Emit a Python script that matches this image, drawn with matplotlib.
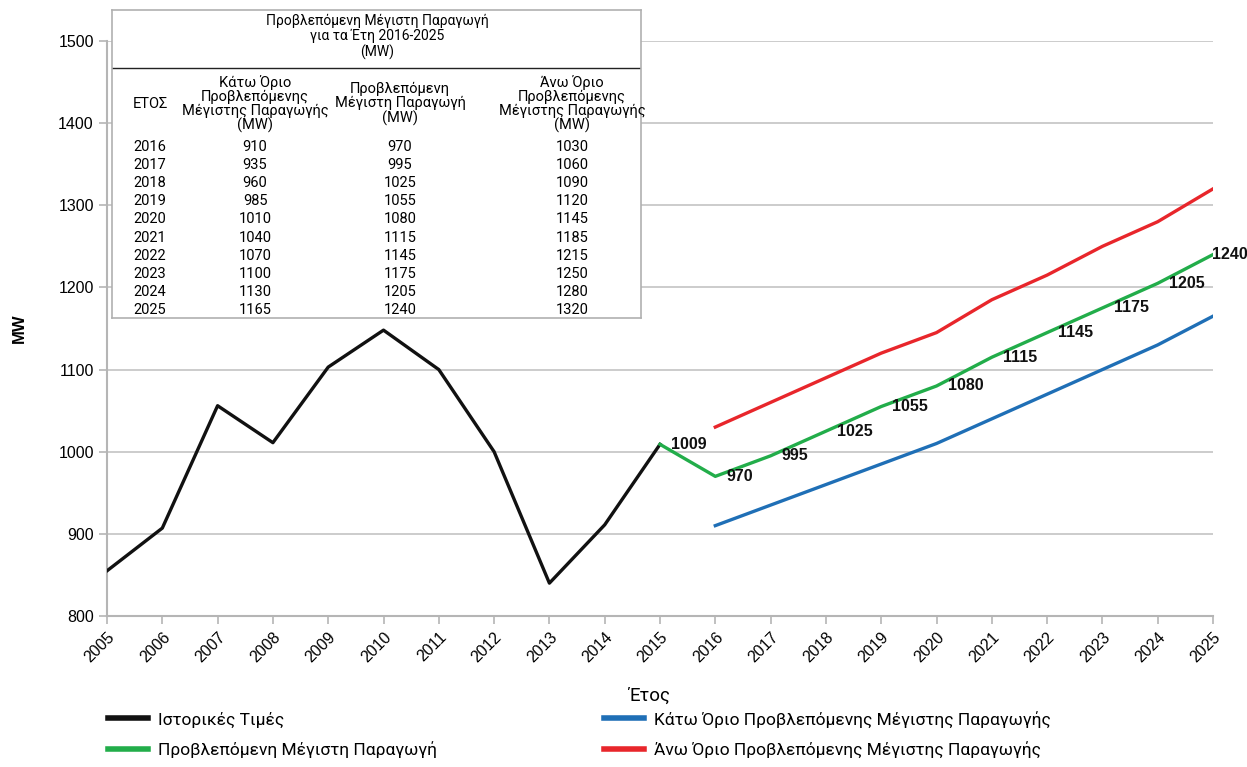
import matplotlib
matplotlib.use("Agg")
import matplotlib.pyplot as plt
from matplotlib.lines import Line2D

# historical values
hist_years = [2005, 2006, 2007, 2008, 2009, 2010, 2011, 2012, 2013, 2014, 2015]
hist_vals = [855, 907, 1056, 1011, 1103, 1148, 1100, 1000, 840, 911, 1009]

# forecast table 2016-2025
fc_years = [2016, 2017, 2018, 2019, 2020, 2021, 2022, 2023, 2024, 2025]
low_vals = [910, 935, 960, 985, 1010, 1040, 1070, 1100, 1130, 1165]
mid_vals = [970, 995, 1025, 1055, 1080, 1115, 1145, 1175, 1205, 1240]
high_vals = [1030, 1060, 1090, 1120, 1145, 1185, 1215, 1250, 1280, 1320]

all_years = list(range(2005, 2026))

lbl_hist = 'Ιστορικές Τιμές'
lbl_low = 'Κάτω Όριο Προβλεπόμενης Μέγιστης Παραγωγής'
lbl_mid = 'Προβλεπόμενη Μέγιστη Παραγωγή'
lbl_high = 'Άνω Όριο Προβλεπόμενης Μέγιστης Παραγωγής'

c_hist = '#111111'
c_low = '#1f6fb6'
c_mid = '#22ad4a'
c_high = '#e8262b'

plt.rcParams['font.family'] = ['Liberation Sans', 'DejaVu Sans']
tfont = ['Roboto', 'DejaVu Sans']

fig = plt.figure(figsize=(12.47, 7.67), dpi=100)
ax = fig.add_axes([107 / 1247, 1 - 616 / 767, (1213 - 107) / 1247, (616 - 41) / 767])

ax.plot(hist_years, hist_vals, color=c_hist, lw=2.4, zorder=3)
ax.plot([hist_years[-1]] + fc_years, [hist_vals[-1]] + mid_vals, color=c_mid, lw=2.4, zorder=3)
ax.plot(fc_years, low_vals, color=c_low, lw=2.4, zorder=3)
ax.plot(fc_years, high_vals, color=c_high, lw=2.4, zorder=3)

# data labels on the forecast line
lab_x = [hist_years[-1]] + fc_years
lab_v = [hist_vals[-1]] + mid_vals
for i, (x, v) in enumerate(zip(lab_x, lab_v)):
    dx = 8 if i < len(lab_x) - 1 else -1
    ax.annotate(str(v), (x, v), xytext=(dx, 0), textcoords='offset points',
                ha='left', va='center', fontsize=11.5, fontweight='bold',
                color='#111111', zorder=4, annotation_clip=False)

ax.set_xlim(2005, 2025)
ax.set_ylim(800, 1500)
ax.set_xticks(all_years)
ax.set_xticklabels([str(y) for y in all_years], rotation=45, ha='right',
                   rotation_mode='anchor', fontsize=11.5)
ax.set_yticks(range(800, 1501, 100))
ax.tick_params(axis='y', labelsize=11.5, length=6, color='#b5b5b5', width=1.2)
ax.tick_params(axis='x', length=6, color='#b5b5b5', width=1.2)
ax.grid(axis='y', color='#c4c4c4', lw=1.2)
ax.set_axisbelow(True)
for s in ['top', 'right']:
    ax.spines[s].set_visible(False)
for s in ['left', 'bottom']:
    ax.spines[s].set_color('#b5b5b5')
    ax.spines[s].set_linewidth(1.5)

ax.set_ylabel('MW', fontsize=12, fontweight='bold')
ax.yaxis.set_label_coords(-0.072, 0.5)
ax.set_xlabel('Έτος', fontsize=13.5, family=tfont)
ax.xaxis.set_label_coords(0.49, -0.123)

# legend
handles = [Line2D([], [], color=c_hist, lw=4),
           Line2D([], [], color=c_mid, lw=4),
           Line2D([], [], color=c_low, lw=4),
           Line2D([], [], color=c_high, lw=4)]
labels = [lbl_hist, lbl_mid, lbl_low, lbl_high]
fig.legend(handles, labels, ncol=2, loc='upper left',
           bbox_to_anchor=(92 / 1247, 1 - 695 / 767), frameon=False,
           prop={'family': tfont, 'size': 12.5},
           handlelength=2.3, handletextpad=0.6, columnspacing=9.6,
           labelspacing=0.8)

# inset table
tx = fig.add_axes([112 / 1247, 1 - 318 / 767, (641 - 112) / 1247, (318 - 10) / 767])
tx.set_xlim(112, 641)
tx.set_ylim(318, 10)
tx.set_xticks([])
tx.set_yticks([])
tx.set_facecolor('white')
for s in tx.spines.values():
    s.set_color('#b0b0b0')
    s.set_linewidth(1.2)

tx.text(377, 37, 'Προβλεπόμενη Μέγιστη Παραγωγή\nγια τα Έτη 2016-2025\n(MW)',
        ha='center', va='center', fontsize=10, family=tfont, linespacing=1.1)
tx.plot([112, 641], [68, 68], color='#222222', lw=1.0)

col_x = [150, 255, 400, 572]
headers = ['ΕΤΟΣ',
           'Κάτω Όριο\nΠροβλεπόμενης\nΜέγιστης Παραγωγής\n(MW)',
           'Προβλεπόμενη\nΜέγιστη Παραγωγή\n(MW)',
           'Άνω Όριο\nΠροβλεπόμενης\nΜέγιστης Παραγωγής\n(MW)']
for cx, h in zip(col_x, headers):
    tx.text(cx, 104, h, ha='center', va='center', fontsize=10.5, family=tfont,
            linespacing=1.0)

for i, yr in enumerate(fc_years):
    ry = 147 + i * 18.1
    for cx, v in zip(col_x, [yr, low_vals[i], mid_vals[i], high_vals[i]]):
        tx.text(cx, ry, str(v), ha='center', va='center', fontsize=10.5, family=tfont)

fig.savefig('out.png', dpi=100)
